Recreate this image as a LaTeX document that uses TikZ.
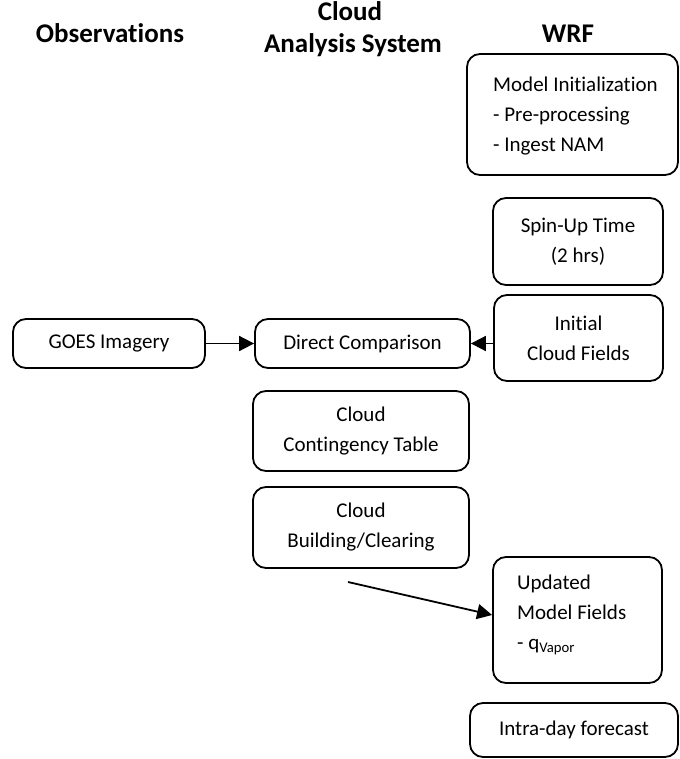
\documentclass[tikz,border=0pt]{standalone}
\usepackage{fontspec}
\setmainfont{Carlito}[Ligatures=NoCommon]
\usetikzlibrary{arrows.meta}
\begin{document}
\begin{tikzpicture}[x=1pt,y=-1pt,
  box/.style={draw, line width=1.8pt, rounded corners=13pt, align=center, inner sep=0pt, font=\fontsize{21}{30}\selectfont},
  txt/.style={align=left, inner sep=0pt, font=\fontsize{21}{30}\selectfont},
  head/.style={inner sep=0pt, font=\fontsize{27}{32}\selectfont\bfseries},
  arr/.style={line width=1.8pt, -{Triangle[length=15pt,width=15pt]}}]
\useasboundingbox (0,0) rectangle (679,759);
% headers
\node[head, anchor=base] (hobs) at (110,43) {Observations};
\node[head, anchor=base] (hcl1) at (350,21) {Cloud};
\node[head, anchor=base] (hcl2) at (353,53) {Analysis System};
\node[head, anchor=base] (hwrf) at (568,43) {WRF};
% boxes
\node[box, minimum width=211pt, minimum height=121pt] (mi) at (572.5,114.5) {};
\node[txt, anchor=west] (mit) at (493,116) {Model Initialization\\- Pre-processing\\- Ingest NAM};
\node[box, minimum width=170pt, minimum height=87pt] (su) at (578,241.5) {Spin-Up Time\\(2 hrs)};
\node[box, minimum width=169pt, minimum height=86pt] (ic) at (578.5,338) {Initial\\Cloud Fields};
\node[box, minimum width=192pt, minimum height=49pt] (goes) at (109,343.5) {GOES Imagery};
\node[box, minimum width=215pt, minimum height=49pt] (dc) at (362.5,343.5) {Direct Comparison};
\node[box, minimum width=216pt, minimum height=80pt] (ct) at (361,431) {Cloud\\Contingency Table};
\node[box, minimum width=216pt, minimum height=81pt] (cb) at (361,527.5) {Cloud\\Building/Clearing};
\node[box, minimum width=169pt, minimum height=126pt] (um) at (577.5,620) {};
\node[txt, anchor=west] (umt) at (517,615) {Updated\\Model Fields\\- q\textsubscript{Vapor}};
\node[box, minimum width=208pt, minimum height=54pt] (id) at (574,730) {Intra-day forecast};
% connectors
\draw[arr] (goes) -- (dc);
\draw[arr] (ic.west |- dc.east) -- (dc.east);
\coordinate (cbarr) at (348,582);
\draw[arr] (cbarr) -- ([yshift=5pt]um.west);
\end{tikzpicture}
\end{document}
